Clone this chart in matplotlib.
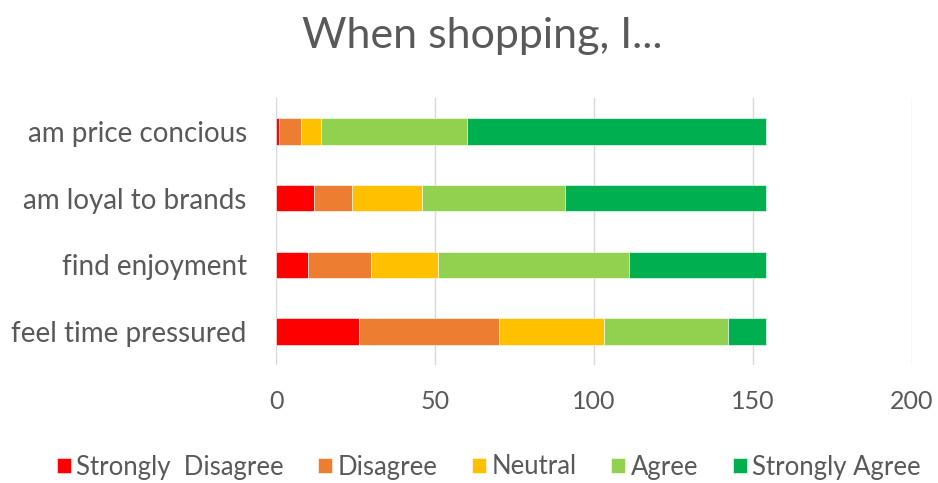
import numpy as np
import matplotlib.pyplot as plt

plt.rcParams['font.family'] = ['Lato', 'DejaVu Sans']

categories = ['feel time pressured', 'find enjoyment', 'am loyal to brands', 'am price concious']
series = ['Strongly  Disagree', 'Disagree', 'Neutral', 'Agree', 'Strongly Agree']
colors = ['#FF0000', '#ED7D31', '#FFC000', '#92D050', '#00B050']

strongly_disagree = [26, 10, 12, 1]
disagree = [44, 20, 12, 7]
neutral = [33, 21, 22, 6]
agree = [39, 60, 45, 46]
strongly_agree = [12, 43, 63, 94]

values = [strongly_disagree, disagree, neutral, agree, strongly_agree]
xticks = [0, 50, 100, 150, 200]

fig = plt.figure(figsize=(9.38, 4.83), dpi=100)
ax = fig.add_axes([276/938, 1-365/483, (912-276)/938, (365-98)/483])

y = np.arange(len(categories))
left = np.zeros(len(categories))
for vals, name, c in zip(values, series, colors):
    ax.barh(y, vals, left=left, height=0.4, color=c, label=name,
            edgecolor='white', linewidth=0.4, zorder=3)
    left += np.array(vals)

ax.set_xlim(0, 200)
ax.set_ylim(-0.5, len(categories) - 0.5)
ax.set_xticks(xticks)
ax.set_yticks(y)
ax.set_yticklabels(categories)
ax.grid(axis='x', color='#D9D9D9', linewidth=1, zorder=0)
for s in ax.spines.values():
    s.set_visible(False)
ax.tick_params(axis='both', length=0, labelcolor='#595959')
ax.tick_params(axis='x', labelsize=18, pad=18)
ax.tick_params(axis='y', labelsize=20, pad=21)

fig.text(0.514, 1-36/483, 'When shopping, I...', ha='center', va='center',
         fontsize=31, color='#595959')

fig.legend(loc='center', bbox_to_anchor=(0.521, 1-467/483), ncol=5, frameon=False,
           fontsize=18.5, labelcolor='#595959', handlelength=0.55, handleheight=0.55,
           handletextpad=0.2, columnspacing=1.35)

fig.savefig('out.png', dpi=100)
